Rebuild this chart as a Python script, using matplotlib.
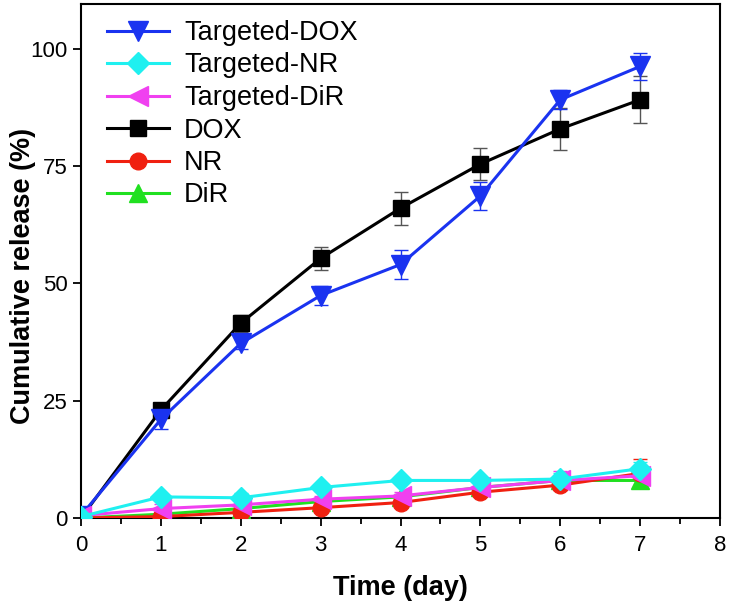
import matplotlib
matplotlib.use("Agg")
import matplotlib.pyplot as plt
from matplotlib.ticker import MultipleLocator
from matplotlib.lines import Line2D

days = [0, 1, 2, 3, 4, 5, 6, 7]

targeted_dox = [0.5, 21.0, 37.2, 47.4, 54.0, 68.6, 89.1, 96.2]
targeted_dox_err = [0.3, 2.0, 1.2, 2.0, 3.0, 3.0, 2.0, 2.8]
targeted_nr = [0.3, 4.5, 4.3, 6.5, 8.0, 8.0, 8.3, 10.5]
targeted_nr_err = [0.2, 0.6, 1.0, 0.8, 0.6, 0.8, 1.2, 1.5]
targeted_dir = [0.5, 2.0, 2.8, 4.0, 4.7, 6.5, 8.0, 9.0]
targeted_dir_err = [0.2, 1.0, 0.8, 0.6, 0.8, 1.0, 2.0, 2.0]
dox = [0.0, 23.0, 41.5, 55.3, 66.0, 75.4, 82.9, 89.1]
dox_err = [0.2, 1.0, 1.8, 2.5, 3.5, 3.5, 4.5, 5.0]
nr = [0.0, 0.3, 1.2, 2.2, 3.3, 5.5, 7.0, 9.5]
nr_err = [0.1, 0.3, 0.5, 0.6, 0.6, 0.8, 1.0, 3.0]
dir_ = [0.0, 0.8, 2.0, 3.5, 4.5, 6.5, 8.0, 8.0]
dir_err = [0.1, 0.4, 0.5, 0.6, 0.6, 0.8, 1.0, 1.5]

series = [
    ("Targeted-DOX", targeted_dox, targeted_dox_err, "#1a33f0", "v", 14),
    ("Targeted-NR", targeted_nr, targeted_nr_err, "#1ff0f0", "D", 11),
    ("Targeted-DiR", targeted_dir, targeted_dir_err, "#f040f0", "<", 14),
    ("DOX", dox, dox_err, "#000000", "s", 11),
    ("NR", nr, nr_err, "#f02010", "o", 12),
    ("DiR", dir_, dir_err, "#20e020", "^", 13),
]

plt.rcParams['font.family'] = ['Liberation Sans', 'DejaVu Sans']

fig = plt.figure(figsize=(7.32, 6.09), dpi=100)
ax = fig.add_axes([81/732, 1-518/609, (720-81)/732, (518-4)/609])

order_draw = [3, 0, 5, 4, 2, 1]
for i in order_draw:
    name, y, e, c, m, ms = series[i]
    ecol = "#555555" if name == "DOX" else c
    ax.errorbar(days, y, yerr=e, color=c, marker=m, markersize=ms,
                linewidth=2.2, ecolor=ecol, elinewidth=1, capsize=5, capthick=1,
                zorder=3)

ax.set_xlim(0, 8)
ax.set_ylim(0, 109.5)
ax.xaxis.set_major_locator(MultipleLocator(1))
ax.xaxis.set_minor_locator(MultipleLocator(0.5))
ax.yaxis.set_major_locator(MultipleLocator(25))
ax.tick_params(axis='both', which='major', direction='out', length=6, width=1.3, labelsize=16)
ax.tick_params(axis='x', which='minor', direction='out', length=4, width=1.3)
ax.tick_params(axis='x', pad=6)
for s in ax.spines.values():
    s.set_linewidth(1.5)

ax.set_xlabel("Time (day)", fontsize=19.5, fontweight='bold', labelpad=14)
ax.set_ylabel("Cumulative release (%)", fontsize=19.5, fontweight='bold')
ax.yaxis.set_label_coords(-45/639, 0.5 + (518 - 275.5 - 257)/514)

handles = [Line2D([], [], color=c, marker=m, markersize=ms, linewidth=2.2)
           for (_, _, _, c, m, ms) in series]
names = [s[0] for s in series]
ax.legend(handles, names, loc='upper left', frameon=False,
          fontsize=19.5, handlelength=2.3, handletextpad=0.55, labelspacing=0.24,
          borderpad=0, borderaxespad=0,
          bbox_to_anchor=(26/639, 1 - 16/514))

fig.savefig("out.png", dpi=100)
